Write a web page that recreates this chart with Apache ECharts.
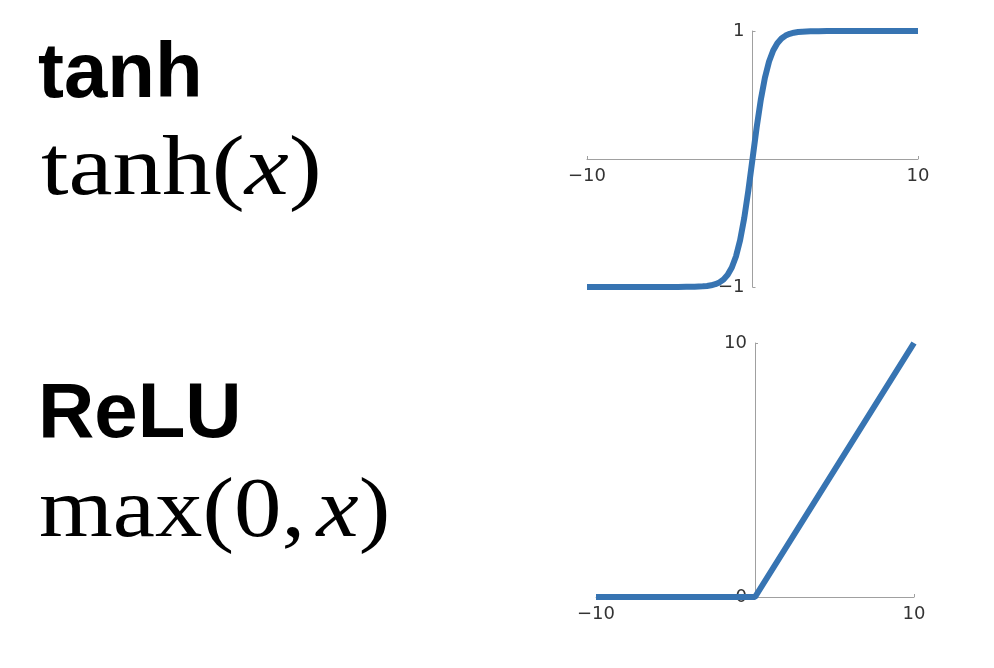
<!DOCTYPE html>
<html>
<head>
<meta charset="utf-8">
<script src="https://cdn.jsdelivr.net/npm/echarts@6/dist/echarts.min.js"></script>
<style>
html,body{margin:0;padding:0;background:#fff;}
#c{width:994px;height:668px;}
</style>
</head>
<body>
<div id="c"></div>
<script>
// tanh curve, values
var tanhX = [-10, -6, -4.5, -4, -3.5, -3, -2.75, -2.5, -2.25, -2, -1.75, -1.5, -1.25, -1, -0.75, -0.5, -0.25, 0,
             0.25, 0.5, 0.75, 1, 1.25, 1.5, 1.75, 2, 2.25, 2.5, 2.75, 3, 3.5, 4, 4.5, 6, 10];
var tanhY = [-1, -1, -1, -0.999, -0.998, -0.995, -0.992, -0.987, -0.978, -0.964, -0.941, -0.905, -0.848, -0.762, -0.635, -0.462, -0.245, 0,
             0.245, 0.462, 0.635, 0.762, 0.848, 0.905, 0.941, 0.964, 0.978, 0.987, 0.992, 0.995, 0.998, 0.999, 1, 1, 1];
// ReLU line
var reluX = [-10, 0, 10];
var reluY = [0, 0, 10];
// tick labels
var xTicks = [-10, 10];
var tanhYTicks = [-1, 1];
var reluYTicks = [0, 10];

function pairs(xs, ys) { return xs.map(function (x, i) { return [x, ys[i]]; }); }

var axisColor = '#a0a0a0';
var labelStyle = { color: '#333', fontFamily: 'DejaVu Sans', fontSize: 18 };
var blue = '#3774b2';
function fmt(v) { return String(v).replace('-', '\u2212'); }

function xAxis(gi, off) {
  return {
    type: 'value', gridIndex: gi, min: -10, max: 10, position: 'bottom', offset: off,
    axisLine: { onZero: false, lineStyle: { color: axisColor, width: 1 } },
    axisTick: { show: true, inside: true, length: 3, customValues: xTicks, lineStyle: { color: axisColor } },
    axisLabel: Object.assign({ customValues: xTicks, margin: 8, formatter: fmt }, labelStyle),
    splitLine: { show: false }
  };
}
function yAxis(gi, mn, mx, ticks, off) {
  return {
    type: 'value', gridIndex: gi, min: mn, max: mx, position: 'left', offset: off,
    axisLine: { show: true, onZero: false, lineStyle: { color: axisColor, width: 1 } },
    axisTick: { show: true, inside: true, length: 3, customValues: ticks, lineStyle: { color: axisColor } },
    axisLabel: Object.assign({ customValues: ticks, margin: 8, formatter: fmt }, labelStyle),
    splitLine: { show: false }
  };
}

var chart = echarts.init(document.getElementById('c'), null, { renderer: 'canvas' });
chart.setOption({
  backgroundColor: '#fff',
  animation: false,
  grid: [
    { left: 587, top: 31, width: 331, height: 256 },
    { left: 596, top: 343, width: 318, height: 254 }
  ],
  xAxis: [xAxis(0, -128), xAxis(1, 0)],
  yAxis: [yAxis(0, -1, 1, tanhYTicks, -165.5), yAxis(1, 0, 10, reluYTicks, -159)],
  series: [
    { type: 'line', xAxisIndex: 0, yAxisIndex: 0, data: pairs(tanhX, tanhY), showSymbol: false, smooth: false, clip: false,
      lineStyle: { color: blue, width: 6, join: 'round' } },
    { type: 'line', xAxisIndex: 1, yAxisIndex: 1, data: pairs(reluX, reluY), showSymbol: false, clip: false,
      lineStyle: { color: blue, width: 6 } }
  ],
  graphic: [
    { type: 'text', x: 38, y: 75, style: { text: 'tanh', font: 'bold 78px "Liberation Sans"', fill: '#000', textAlign: 'left', textVerticalAlign: 'middle' } },
    { type: 'text', x: 41, y: 172, scaleX: 1.18, style: { text: '{r|tanh(}{i|x}{r|)}', fill: '#000', textAlign: 'left', textVerticalAlign: 'middle',
      rich: { r: { fontFamily: 'Liberation Serif', fontSize: 84, fill: '#000' }, i: { fontFamily: 'Liberation Serif', fontStyle: 'italic', fontSize: 84, fill: '#000' } } } },
    { type: 'text', x: 38, y: 415, style: { text: 'ReLU', font: 'bold 78px "Liberation Sans"', fill: '#000', textAlign: 'left', textVerticalAlign: 'middle' } },
    { type: 'text', x: 39, y: 514, scaleX: 1.13, style: { text: '{r|max(0,}{s| }{i|x}{r|)}', fill: '#000', textAlign: 'left', textVerticalAlign: 'middle',
      rich: { r: { fontFamily: 'Liberation Serif', fontSize: 84, fill: '#000' }, s: { fontFamily: 'Liberation Serif', fontSize: 40 }, i: { fontFamily: 'Liberation Serif', fontStyle: 'italic', fontSize: 84, fill: '#000' } } } }
  ]
});
</script>
</body>
</html>
